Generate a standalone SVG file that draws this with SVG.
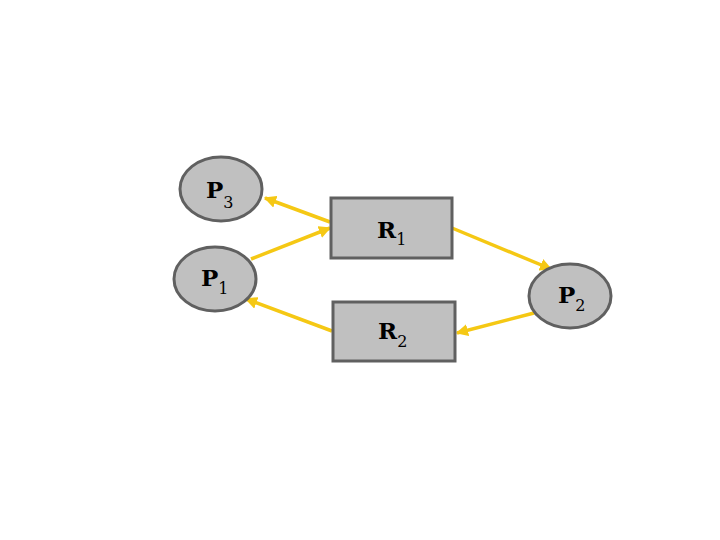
<svg xmlns="http://www.w3.org/2000/svg" width="720" height="540" viewBox="0 0 720 540">
<defs>
<marker id="ah" viewBox="0 0 10 10" refX="9" refY="5" markerWidth="3.5" markerHeight="3.5" orient="auto" markerUnits="strokeWidth">
<path d="M0,0 L10,5 L0,10 z" fill="#f5c814"/>
</marker>
</defs>
<style>
.n{fill:#c0c0c0;stroke:#606060;stroke-width:3}
.c{stroke:#f5c814;stroke-width:3.5;fill:none;marker-end:url(#ah)}
text{font-family:'DejaVu Serif','Liberation Serif',serif;font-weight:bold;font-size:23px;fill:#000}
tspan{font-size:16px;font-weight:normal}
</style>
<rect width="720" height="540" fill="#fff"/>
<g id="connectors">
<line class="c" x1="330" y1="222" x2="265" y2="198"/>
<line class="c" x1="251" y1="259" x2="330" y2="228"/>
<line class="c" x1="452" y1="228" x2="551" y2="269"/>
<line class="c" x1="534" y1="313" x2="457" y2="333"/>
<line class="c" x1="332" y1="331" x2="246" y2="299"/>
</g>
<g id="P3">
<ellipse class="n" cx="221" cy="189" rx="41" ry="32"/>
<text x="206" y="198">P<tspan dy="10">3</tspan></text>
</g>
<g id="P1">
<ellipse class="n" cx="215" cy="279" rx="41" ry="32"/>
<text x="201" y="286">P<tspan dy="8">1</tspan></text>
</g>
<g id="R1">
<rect class="n" x="331" y="198" width="121" height="60"/>
<text x="377" y="238">R<tspan dy="7">1</tspan></text>
</g>
<g id="R2">
<rect class="n" x="333" y="302" width="122" height="59"/>
<text x="378" y="339">R<tspan dy="8">2</tspan></text>
</g>
<g id="P2">
<ellipse class="n" cx="570" cy="296" rx="41" ry="32"/>
<text x="558" y="303">P<tspan dy="8">2</tspan></text>
</g>
</svg>
